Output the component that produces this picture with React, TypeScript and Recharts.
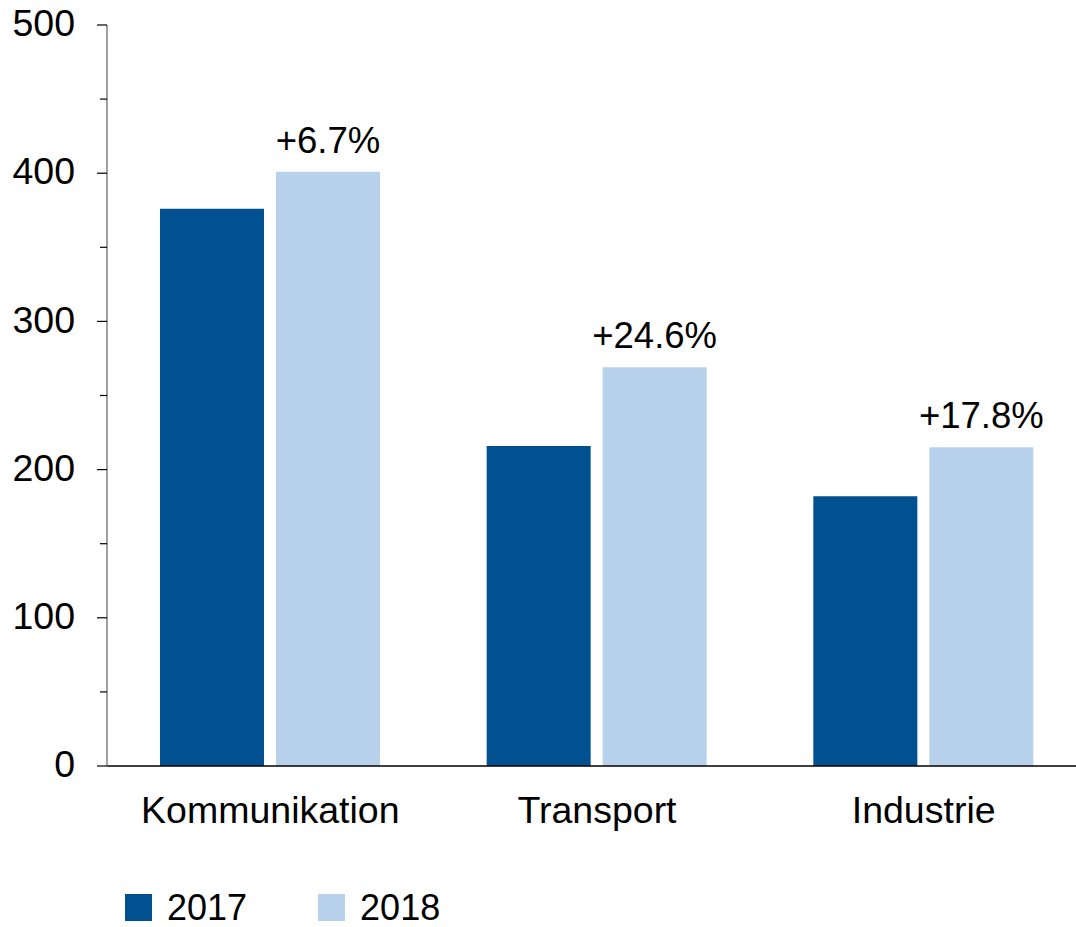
import { BarChart, Bar, XAxis, YAxis, LabelList } from 'recharts'

const categories = ['Kommunikation', 'Transport', 'Industrie']
const values2017 = [376, 216, 182]
const values2018 = [401, 269, 215]
const changeLabels = ['+6.7%', '+24.6%', '+17.8%']
const yTicks = [0, 50, 100, 150, 200, 250, 300, 350, 400, 450, 500]
const edgeTicks = [0, 1, 2, 3]

const series = [
  { key: 'y2017', name: '2017', color: '#01508F' },
  { key: 'y2018', name: '2018', color: '#B8D2EB' },
]

const data = categories.map((category, i) => ({
  category,
  y2017: values2017[i],
  y2018: values2018[i],
  change: changeLabels[i],
}))

const FONT = '"Liberation Sans", Arial, Helvetica, sans-serif'
const FONT_SIZE = 37.5
const Y_MARGIN = 32

function YTick({ x, y, payload }: any) {
  const major = payload.value % 100 === 0
  const len = major ? 10 : 7
  const axisX = x + Y_MARGIN
  return (
    <g>
      <line x1={axisX - len} x2={axisX} y1={y} y2={y} stroke="#000" strokeWidth={1.2} />
      {major && (
        <text x={x} y={y} dy="0.3em" textAnchor="end" fontSize={FONT_SIZE} fontFamily={FONT} fill="#000">
          {payload.value}
        </text>
      )}
    </g>
  )
}

export default function App() {
  return (
    <div
      style={{
        position: 'absolute',
        left: 0,
        top: 0,
        width: 1076,
        height: 927,
        overflow: 'hidden',
        background: '#fff',
      }}
    >
      <BarChart
        width={1100}
        height={927}
        data={data}
        margin={{ top: 25, right: 13, left: 0, bottom: 0 }}
        barGap={12}
        barSize={104}
      >
        <XAxis
          xAxisId="edges"
          type="number"
          domain={[0, 3]}
          ticks={edgeTicks}
          tick={false}
          axisLine={false}
          tickSize={11}
          tickLine={{ stroke: '#808080', strokeWidth: 1.2 }}
          height={0}
        />
        <XAxis
          dataKey="category"
          axisLine={{ stroke: '#000', strokeWidth: 1.5 }}
          tickLine={false}
          tickSize={0}
          tickMargin={30}
          height={161}
          tick={{ fontSize: FONT_SIZE, fontFamily: FONT, fill: '#000' }}
        />
        <YAxis
          width={107}
          domain={[0, 500]}
          ticks={yTicks}
          interval={0}
          axisLine={{ stroke: '#808080', strokeWidth: 1.5 }}
          tickLine={false}
          tickSize={0}
          tickMargin={Y_MARGIN}
          tick={<YTick />}
        />
        {series.map((s) => (
          <Bar key={s.key} dataKey={s.key} name={s.name} fill={s.color} isAnimationActive={false}>
            {s.key === 'y2018' && (
              <LabelList
                dataKey="change"
                position="top"
                offset={19}
                fontSize={36.5}
                fontFamily={FONT}
                fill="#000"
              />
            )}
          </Bar>
        ))}
      </BarChart>
      <div
        style={{
          position: 'absolute',
          left: 125,
          top: 893,
          display: 'flex',
          alignItems: 'flex-start',
          fontFamily: FONT,
          fontSize: 36,
          lineHeight: '30px',
          color: '#000',
        }}
      >
        {series.map((s) => (
          <div key={s.key} style={{ display: 'flex', alignItems: 'flex-start', marginRight: 71 }}>
            <div style={{ width: 27, height: 27, marginTop: 1, background: s.color }} />
            <span style={{ marginLeft: 15 }}>{s.name}</span>
          </div>
        ))}
      </div>
    </div>
  )
}
